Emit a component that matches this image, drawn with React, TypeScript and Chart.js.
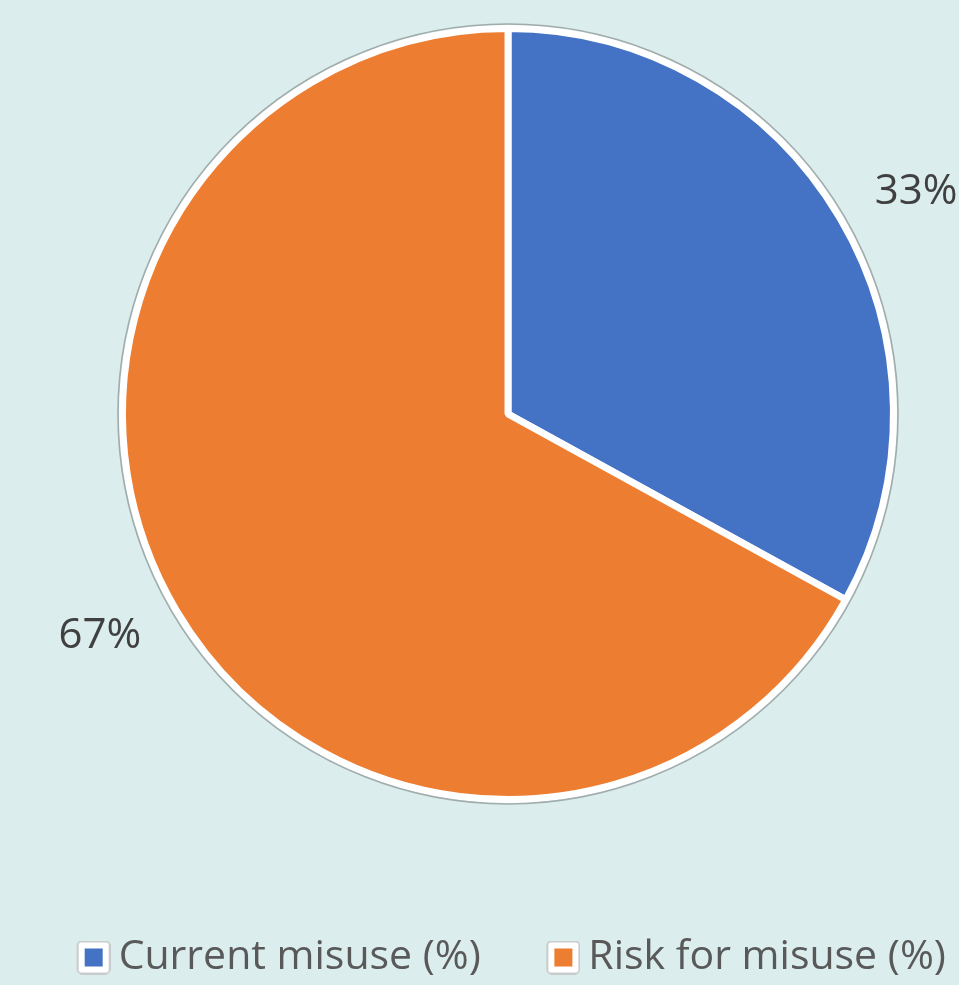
import React, { useEffect, useRef } from "react";
import { Chart, registerables } from "chart.js";

Chart.register(...registerables);

const categories = ["Current misuse (%)", "Risk for misuse (%)"];
const values = [33, 67];
const colors = ["#4472C4", "#ED7D31"];

const BG = "#DBEDED";
const LEGEND_FONT = 41;
const LABEL_FONT = 42;
const BOX_W = 85;
const LEGEND_PAD = 2;

function makeLegendImage(color: string): HTMLCanvasElement {
  const w = BOX_W + 25;
  const h = 34;
  const c = document.createElement("canvas");
  c.width = w;
  c.height = h;
  const ctx = c.getContext("2d")!;
  const s = 32;
  const x0 = w - s - 1;
  const y0 = 1;
  ctx.fillStyle = "#FFFFFF";
  ctx.strokeStyle = "#BFBFBF";
  ctx.lineWidth = 1.5;
  ctx.beginPath();
  (ctx as any).roundRect ? (ctx as any).roundRect(x0, y0, s, s, 4) : ctx.rect(x0, y0, s, s);
  ctx.fill();
  ctx.stroke();
  ctx.fillStyle = color;
  ctx.fillRect(x0 + 7, y0 + 7, s - 14, s - 14);
  return c;
}

const ringPlugin = {
  id: "outerRing",
  afterDatasetsDraw(chart: any) {
    const meta = chart.getDatasetMeta(0);
    if (!meta.data.length) return;
    const arc: any = meta.data[0];
    const { x, y, outerRadius } = arc.getProps(["x", "y", "outerRadius"], true);
    const ctx = chart.ctx;
    ctx.save();
    ctx.beginPath();
    ctx.arc(x, y, outerRadius + 4.5, 0, Math.PI * 2);
    ctx.strokeStyle = "rgba(150,160,160,0.85)";
    ctx.lineWidth = 1.6;
    ctx.stroke();
    ctx.restore();
  },
};

const labelPlugin = {
  id: "outsideLabels",
  afterDatasetsDraw(chart: any) {
    const meta = chart.getDatasetMeta(0);
    const data = chart.data.datasets[0].data as number[];
    const total = data.reduce((a, b) => a + b, 0);
    const ctx = chart.ctx;
    ctx.save();
    ctx.font = `${LABEL_FONT}px "Open Sans"`;
    ctx.fillStyle = "#404040";
    ctx.textAlign = "center";
    ctx.textBaseline = "middle";
    meta.data.forEach((arc: any, i: number) => {
      const { x, y, startAngle, endAngle, outerRadius } = arc.getProps(
        ["x", "y", "startAngle", "endAngle", "outerRadius"],
        true
      );
      const mid = (startAngle + endAngle) / 2;
      const lx = x + Math.cos(mid) * outerRadius * 1.23;
      const ly = y + Math.sin(mid) * outerRadius * 1.13;
      ctx.fillText(Math.round((data[i] / total) * 100) + "%", lx, ly);
    });
    ctx.restore();
  },
};

export default function App() {
  const ref = useRef<HTMLCanvasElement>(null);

  useEffect(() => {
    document.body.style.margin = "0";
    const images = colors.map(makeLegendImage);
    const chart = new Chart(ref.current!, {
      type: "pie",
      data: {
        labels: categories,
        datasets: [
          {
            data: values,
            backgroundColor: colors,
            borderColor: "#FFFFFF",
            borderWidth: 7,
          },
        ],
      },
      options: {
        responsive: false,
        animation: false,
        layout: { padding: { top: 25, left: 0, right: 0, bottom: -3 } },
        plugins: {
          tooltip: { enabled: false },
          title: {
            display: true,
            position: "left",
            fullSize: false,
            text: " ",
            color: "rgba(0,0,0,0)",
            font: { size: 10, lineHeight: 1 },
            padding: { top: 47, bottom: 0 },
          },
          legend: {
            position: "bottom",
            title: {
              display: true,
              text: " ",
              color: "rgba(0,0,0,0)",
              font: { size: 10, lineHeight: 1 },
              padding: { top: 122, bottom: 0 },
            },
            labels: {
              usePointStyle: true,
              pointStyleWidth: BOX_W,
              padding: LEGEND_PAD,
              color: "#595959",
              font: { size: LEGEND_FONT, family: '"Open Sans"' },
              generateLabels: (chart: any) => {
                const items = Chart.overrides.pie.plugins.legend.labels.generateLabels(chart);
                return items.map((it: any, i: number) => ({ ...it, pointStyle: images[i] }));
              },
            },
          },
        },
      },
      plugins: [ringPlugin, labelPlugin],
    });
    return () => chart.destroy();
  }, []);

  return (
    <div style={{ width: 959, height: 985, background: BG }}>
      <canvas ref={ref} width={959} height={985} style={{ display: "block" }} />
    </div>
  );
}
